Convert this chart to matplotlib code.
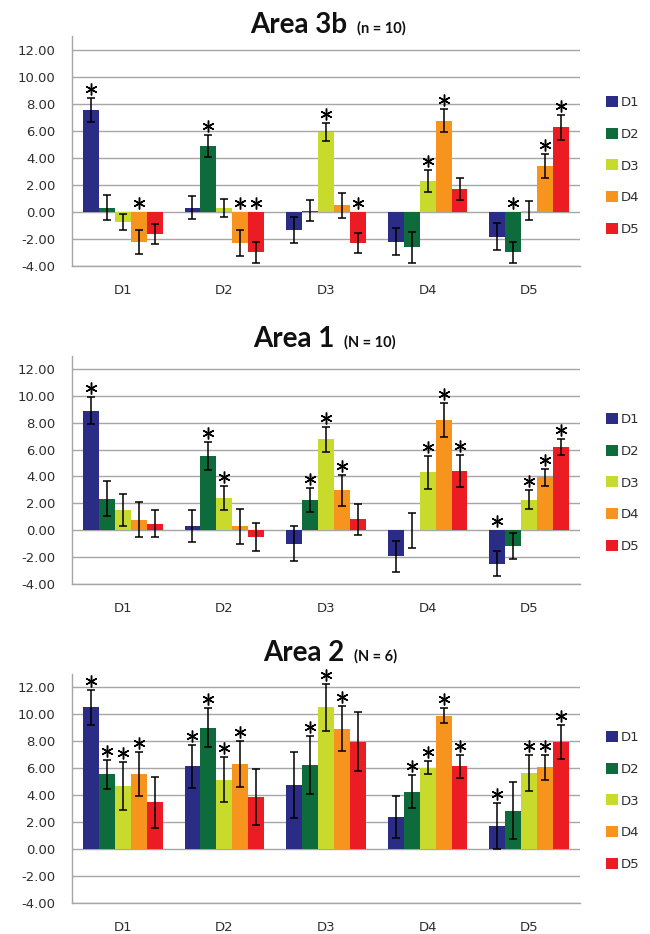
import numpy as np
import matplotlib.pyplot as plt
from matplotlib.transforms import offset_copy

plt.rcParams['axes.unicode_minus'] = False

categories = ["D1", "D2", "D3", "D4", "D5"]
series = ["D1", "D2", "D3", "D4", "D5"]
colors = ["#2B2C86", "#0D6B3C", "#C8DA2C", "#F7941E", "#EC1C24"]

# rows = category group on the x axis, columns = series (legend entries)
area3b_mean = np.array([
    [7.56, 0.33, -0.72, -2.20, -1.63],
    [0.30, 4.91, 0.30, -2.30, -3.00],
    [-1.33, 0.10, 5.95, 0.50, -2.32],
    [-2.20, -2.62, 2.30, 6.77, 1.70],
    [-1.83, -3.00, 0.10, 3.40, 6.27],
])
area3b_err = np.array([
    [0.86, 0.95, 0.60, 0.90, 0.75],
    [0.85, 0.83, 0.65, 0.94, 0.77],
    [0.94, 0.80, 0.67, 0.93, 0.74],
    [0.99, 1.14, 0.83, 0.83, 0.80],
    [0.99, 0.79, 0.72, 0.86, 0.91],
])
area3b_star = np.array([
    [1, 0, 0, 1, 0],
    [0, 1, 0, 1, 1],
    [0, 0, 1, 0, 1],
    [0, 0, 1, 1, 0],
    [0, 1, 0, 1, 1],
], dtype=bool)

area1_mean = np.array([
    [8.90, 2.36, 1.48, 0.78, 0.48],
    [0.30, 5.50, 2.40, 0.28, -0.50],
    [-1.00, 2.24, 6.76, 2.98, 0.80],
    [-1.94, 0.00, 4.30, 8.20, 4.40],
    [-2.48, -1.17, 2.28, 3.93, 6.20],
])
area1_err = np.array([
    [1.02, 1.30, 1.20, 1.30, 1.00],
    [1.20, 1.04, 0.92, 1.30, 1.05],
    [1.28, 0.90, 0.92, 1.14, 1.15],
    [1.15, 1.30, 1.20, 1.30, 1.20],
    [0.90, 0.94, 0.68, 0.62, 0.57],
])
area1_star = np.array([
    [1, 0, 0, 0, 0],
    [0, 1, 1, 0, 0],
    [0, 1, 1, 1, 0],
    [0, 0, 1, 1, 1],
    [1, 0, 1, 1, 1],
], dtype=bool)

area2_mean = np.array([
    [10.49, 5.53, 4.64, 5.53, 3.46],
    [6.12, 9.00, 5.14, 6.32, 3.85],
    [4.74, 6.20, 10.50, 8.91, 7.95],
    [2.37, 4.25, 6.02, 9.88, 6.12],
    [1.68, 2.84, 5.63, 6.07, 7.95],
])
area2_err = np.array([
    [1.30, 1.09, 1.77, 1.64, 1.88],
    [1.60, 1.44, 1.67, 1.70, 2.07],
    [2.44, 2.15, 1.74, 1.67, 2.17],
    [1.54, 1.22, 0.47, 0.56, 0.86],
    [1.70, 2.10, 1.36, 0.93, 1.26],
])
area2_star = np.array([
    [1, 1, 1, 1, 0],
    [1, 1, 1, 1, 0],
    [0, 1, 1, 1, 0],
    [0, 1, 1, 1, 1],
    [1, 0, 1, 1, 1],
], dtype=bool)

yticks = np.arange(-4, 13, 2)

W, H = 650, 934
fig = plt.figure(figsize=(W / 100, H / 100), dpi=100)

# (title, sub, data, axes top/bottom px, title left x px, title baseline px, legend center px)
panels = [
    ("Area 3b", "(n = 10)", area3b_mean, area3b_err, area3b_star, 36.5, 266, 250, 33, 166),
    ("Area 1", "(N = 10)", area1_mean, area1_err, area1_star, 355.5, 584, 253, 347, 483),
    ("Area 2", "(N = 6)", area2_mean, area2_err, area2_star, 673.5, 903, 263, 661, 801),
]

grid_col = "#A6A6A6"
text_col = "#2E2E2E"
bw = 0.157
x = np.arange(len(categories))

for title, sub, mean, err, star, top, bot, tx, ty, ly in panels:
    ax = fig.add_axes([72 / W, 1 - bot / H, 508 / W, (bot - top) / H])
    ax.set_axisbelow(True)
    handles = []
    for s in range(len(series)):
        xs = x + (s - 2) * bw
        b = ax.bar(xs, mean[:, s], bw, color=colors[s], yerr=err[:, s],
                   error_kw=dict(ecolor="black", elinewidth=1.1, capsize=3.2, capthick=1.1),
                   label=series[s], zorder=2)
        handles.append(b)
        # asterisk sits above the error bar, or above zero for negative bars
        sy = np.where(mean[:, s] > 0, mean[:, s] + err[:, s], 0.0)
        m = star[:, s]
        ax.plot(xs[m], sy[m], linestyle="none", marker=(6, 2, 0), ms=8.5, mew=1.05,
                color="black", clip_on=False, zorder=3,
                transform=offset_copy(ax.transData, fig=fig, y=9, units="dots"))

    ax.set_xlim(-0.5, 4.5)
    ax.set_ylim(-4, 13)
    ax.set_yticks(yticks)
    ax.set_yticklabels([f"{v:.2f}" for v in yticks])
    ax.set_xticks(x)
    ax.set_xticklabels(categories)
    ax.yaxis.grid(True, color=grid_col, linewidth=1.0)
    ax.tick_params(axis="y", length=0, pad=12, labelsize=9.5, labelcolor=text_col)
    ax.tick_params(axis="x", length=0, pad=13, labelsize=9.5, labelcolor=text_col)
    for sp in ["top", "right"]:
        ax.spines[sp].set_visible(False)
    ax.spines["left"].set_color(grid_col)
    ax.spines["bottom"].set_color(grid_col)
    ax.spines["left"].set_linewidth(1.0)
    ax.spines["bottom"].set_linewidth(1.0)

    ax.legend(handles=handles, loc="center left", bbox_to_anchor=(606 / W, 1 - ly / H),
              bbox_transform=fig.transFigure, frameon=False, fontsize=9.5,
              handlelength=0.9, handleheight=0.9, handletextpad=0.2,
              labelspacing=1.42, borderpad=0, borderaxespad=0, labelcolor=text_col)

    t = fig.text(tx, H - ty, title, transform=None, fontsize=20, fontweight="bold",
                 family="Lato", va="baseline", ha="left", color="#111111")
    ax.annotate(sub, xy=(1.0, H - ty), xycoords=(t, "figure pixels"),
                xytext=(7, 0), textcoords="offset points", fontsize=10.5,
                fontweight="bold", family="Lato", va="baseline", ha="left",
                color="#111111", annotation_clip=False)

fig.savefig("out.png", dpi=100)
